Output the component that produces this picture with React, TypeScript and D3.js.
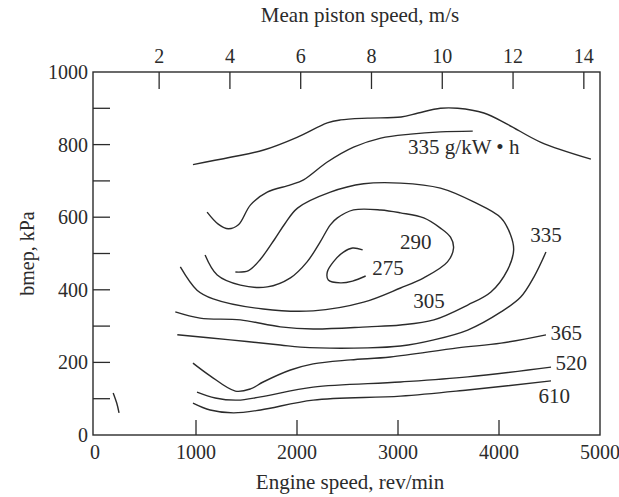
import React, { useEffect, useRef } from "react";
import * as d3 from "d3";

// engine speed (rev/min), bmep (kPa)
const topLine = [[970,745],[1340,765],[1670,785],[2000,820],[2300,860],[2430,868],[2700,873],[3030,876],[3200,887],[3420,900],[3590,900],[3850,887],[4090,855],[4410,807],[4910,760]];
const bsfc335Upper = [[1110,614],[1220,581],[1320,568],[1420,579],[1540,634],[1705,669],[1935,689],[2065,703],[2300,752],[2560,793],[2830,818],[3125,829],[3420,835],[3740,837]];
const bsfc290 = [[1090,496],[1210,441],[1440,413],[1705,408],[1935,433],[2100,477],[2230,532],[2330,579],[2400,598],[2560,620],[2830,620],[3025,612],[3255,598],[3420,570],[3520,545],[3550,515],[3490,477],[3255,433],[3025,405],[2660,366],[2160,342],[1665,347],[1170,375],[1010,399],[845,463]];
const bsfc275 = [[2650,510],[2550,515],[2460,504],[2360,477],[2300,449],[2310,427],[2430,419],[2550,424],[2680,438]];
const bsfc305 = [[1390,449],[1520,453],[1640,485],[1780,540],[1880,582],[2005,625],[2330,669],[2660,692],[3025,694],[3420,680],[3750,642],[4020,598],[4115,551],[4145,510],[4085,455],[3920,394],[3690,358],[3355,317],[3025,303],[2700,298],[2160,292],[1835,298],[1440,317],[1040,322],[795,339]];
const bsfc335Lower = [[4465,504],[4345,435],[4215,380],[4020,339],[3690,289],[3355,262],[3025,245],[2700,240],[2035,242],[1835,248],[1340,262],[815,276]];
const bsfc365 = [[970,198],[1140,163],[1390,121],[1540,127],[1665,146],[1935,179],[2160,196],[2530,207],[2925,215],[3590,240],[4020,253],[4465,276]];
const bsfc520 = [[1010,118],[1190,102],[1410,96],[1640,105],[2160,132],[3025,146],[3690,160],[4515,187]];
const bsfc610 = [[970,88],[1140,69],[1370,61],[1640,69],[2160,96],[3025,107],[3690,124],[4515,149]];
const strayMark = [[180,116],[215,88],[238,61]];

const contourLabels = [
  { text: "335 g/kW • h", rpm: 3100, kpa: 774 },
  { text: "290", rpm: 3020, kpa: 513 },
  { text: "275", rpm: 2745, kpa: 440 },
  { text: "305", rpm: 3150, kpa: 349 },
  { text: "335", rpm: 4310, kpa: 532 },
  { text: "365", rpm: 4510, kpa: 261 },
  { text: "520", rpm: 4560, kpa: 178 },
  { text: "610", rpm: 4390, kpa: 87 },
];

const speedTicks = [0, 1000, 2000, 3000, 4000, 5000];
const bmepTicks = [0, 100, 200, 300, 400, 500, 600, 700, 800, 900, 1000];
const bmepLabels = [0, 200, 400, 600, 800, 1000];
const pistonTicks = [2, 4, 6, 8, 10, 12, 14];

const ink = "#2b2b2b";
const font = "'Liberation Serif', 'Times New Roman', serif";

const App = () => {
  const svgRef = useRef<SVGSVGElement>(null);

  useEffect(() => {
    const w = 619;
    const h = 497;
    const svg = d3.select(svgRef.current).attr("width", w).attr("height", h);
    svg.selectAll("*").remove();

    const x = d3.scaleLinear().domain([0, 5000]).range([95, 600]);
    const y = d3.scaleLinear().domain([0, 1000]).range([435, 72]);
    // mean piston speed axis sits on top, mapped onto rev/min
    const piston = d3.scaleLinear().domain([2, 14]).range([x(635), x(4840)]);

    const g = svg.append("g");

    // frame
    g.append("rect")
      .attr("x", x(0) - 2)
      .attr("y", y(1000))
      .attr("width", x(5000) - x(0) + 2)
      .attr("height", y(0) - y(1000))
      .attr("fill", "none")
      .attr("stroke", ink)
      .attr("stroke-width", 1.4);

    // left ticks (inward)
    g.selectAll(".ytick")
      .data(bmepTicks.filter((d) => d > 0 && d < 1000))
      .join("line")
      .attr("x1", x(0) - 2)
      .attr("x2", x(0) + 15)
      .attr("y1", (d) => y(d))
      .attr("y2", (d) => y(d))
      .attr("stroke", ink)
      .attr("stroke-width", 1.3);

    g.selectAll(".ylab")
      .data(bmepLabels)
      .join("text")
      .attr("x", x(0) - 7)
      .attr("y", (d) => y(d))
      .attr("dy", "0.35em")
      .attr("text-anchor", "end")
      .attr("font-family", font)
      .attr("font-size", 20)
      .attr("fill", ink)
      .text((d) => d);

    // bottom ticks (inward)
    g.selectAll(".xtick")
      .data(speedTicks.filter((d) => d > 0 && d < 5000))
      .join("line")
      .attr("x1", (d) => x(d))
      .attr("x2", (d) => x(d))
      .attr("y1", y(0))
      .attr("y2", y(0) - 15)
      .attr("stroke", ink)
      .attr("stroke-width", 1.3);

    g.selectAll(".xlab")
      .data(speedTicks)
      .join("text")
      .attr("x", (d) => x(d))
      .attr("y", y(0) + 24)
      .attr("text-anchor", "middle")
      .attr("font-family", font)
      .attr("font-size", 20)
      .attr("fill", ink)
      .text((d) => d);

    // top ticks, mean piston speed
    g.selectAll(".ptick")
      .data(pistonTicks)
      .join("line")
      .attr("x1", (d) => piston(d))
      .attr("x2", (d) => piston(d))
      .attr("y1", y(1000))
      .attr("y2", y(1000) + 17)
      .attr("stroke", ink)
      .attr("stroke-width", 1.3);

    g.selectAll(".plab")
      .data(pistonTicks)
      .join("text")
      .attr("x", (d) => piston(d))
      .attr("y", y(1000) - 9)
      .attr("text-anchor", "middle")
      .attr("font-family", font)
      .attr("font-size", 20)
      .attr("fill", ink)
      .text((d) => d);

    // axis titles
    g.append("text")
      .attr("x", 360)
      .attr("y", 22)
      .attr("text-anchor", "middle")
      .attr("font-family", font)
      .attr("font-size", 21)
      .attr("fill", ink)
      .text("Mean piston speed, m/s");

    g.append("text")
      .attr("x", 350)
      .attr("y", 489)
      .attr("text-anchor", "middle")
      .attr("font-family", font)
      .attr("font-size", 21)
      .attr("fill", ink)
      .text("Engine speed, rev/min");

    g.append("text")
      .attr("transform", `translate(34,${y(500)}) rotate(-90)`)
      .attr("text-anchor", "middle")
      .attr("font-family", font)
      .attr("font-size", 20)
      .attr("fill", ink)
      .text("bmep, kPa");

    const line = d3
      .line<number[]>()
      .x((d) => x(d[0]))
      .y((d) => y(d[1]))
      .curve(d3.curveCatmullRom.alpha(0.5));

    const contours = [topLine, bsfc335Upper, bsfc290, bsfc275, bsfc305, bsfc335Lower, bsfc365, bsfc520, bsfc610, strayMark];

    g.selectAll(".contour")
      .data(contours)
      .join("path")
      .attr("class", "contour")
      .attr("d", (d) => line(d))
      .attr("fill", "none")
      .attr("stroke", ink)
      .attr("stroke-width", 1.4);

    g.selectAll(".clab")
      .data(contourLabels)
      .join("text")
      .attr("x", (d) => x(d.rpm))
      .attr("y", (d) => y(d.kpa))
      .attr("font-family", font)
      .attr("font-size", 21)
      .attr("fill", ink)
      .text((d) => d.text);
  }, []);

  return <svg ref={svgRef} style={{ position: "absolute", left: 0, top: 0, background: "#fff" }} />;
};

export default App;
